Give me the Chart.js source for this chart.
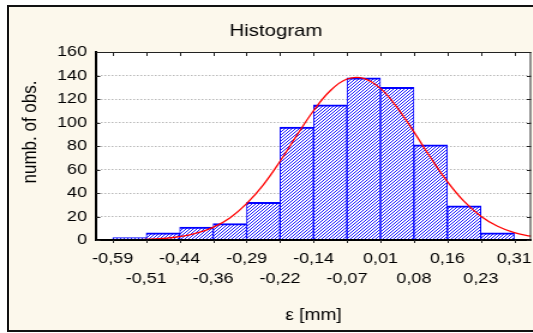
<!DOCTYPE html>
<html>
<head>
<meta charset="utf-8">
<script src="https://cdn.jsdelivr.net/npm/chart.js@4.4.1/dist/chart.umd.min.js"></script>
<style>
  html, body { margin: 0; padding: 0; background: #fff; }
  #wrap { position: relative; width: 533px; height: 333px; overflow: hidden; background: #fff; }
  #frame { position: absolute; left: 7px; top: 5px; width: 600px; height: 323px; border: 2px solid #111; background: #fcf8ec; }
  /* the original picture is stretched sideways, so the chart is drawn narrow and widened */
  #stretch { position: absolute; left: 0; top: 0; width: 460px; height: 333px; transform: scaleX(1.2); transform-origin: 0 0; }
</style>
</head>
<body>
<div id="wrap">
  <div id="frame"></div>
  <div id="stretch"><canvas id="chart" width="460" height="333"></canvas></div>
</div>
<script>
// histogram bins (mm) and the way the axis prints them
var binEdges = [-0.5896, -0.5147, -0.4398, -0.3649, -0.2900, -0.2151, -0.1402, -0.0653, 0.0096, 0.0845, 0.1594, 0.2343, 0.3092];
var tickLabels = ['-0,59', '-0,51', '-0,44', '-0,36', '-0,29', '-0,22', '-0,14', '-0,07', '0,01', '0,08', '0,16', '0,23', '0,31'];
var counts = [2, 6, 11, 14, 32, 96, 115, 138, 130, 81, 29, 6];
var yTicks = [0, 20, 40, 60, 80, 100, 120, 140, 160];

// red normal curve
var curveX = [-0.6271, -0.5896, -0.5522, -0.5147, -0.4773, -0.4398, -0.4024, -0.3649, -0.3275, -0.2900, -0.2526, -0.2151, -0.1777, -0.1402,
              -0.1028, -0.0653, -0.0279, 0.0096, 0.0471, 0.0845, 0.1220, 0.1594, 0.1969, 0.2343, 0.2718, 0.3092, 0.3467];
var curveY = [0, 0.1, 0.3, 0.6, 1.3, 2.8, 5.8, 10.8, 18.8, 31, 47, 67, 89, 110,
              127, 137, 137.6, 129, 112.7, 92, 70, 49.7, 32.8, 20.3, 11.7, 6.3, 3.2];

var FONT = "Arial, 'Liberation Sans', sans-serif";

// hatch fill for the bars
function hatch() {
  var c = document.createElement('canvas');
  c.width = 3; c.height = 3;
  var g = c.getContext('2d');
  g.fillStyle = '#ffffff';
  g.fillRect(0, 0, 3, 3);
  g.fillStyle = '#1a1aff';
  for (var i = 0; i < 3; i++) g.fillRect(i, 2 - i, 1, 1);
  return g.createPattern(c, 'repeat');
}

var binW = binEdges[1] - binEdges[0];
var bars = counts.map(function (c, i) {
  return { x: (binEdges[i] + binEdges[i + 1]) / 2, y: c };
});
var curve = curveX.map(function (x, i) {
  return { x: x, y: curveY[i] };
});

// white plot area, thin top/right frame, inner tick marks, y title
var plotDeco = {
  id: 'plotDeco',
  beforeDraw: function (chart) {
    var a = chart.chartArea, ctx = chart.ctx;
    ctx.save();
    ctx.fillStyle = '#ffffff';
    ctx.fillRect(a.left, a.top, a.right - a.left, a.bottom - a.top);
    ctx.restore();
  },
  afterDraw: function (chart) {
    var a = chart.chartArea, ctx = chart.ctx;
    var xs = chart.scales.x, ys = chart.scales.y;
    ctx.save();
    ctx.strokeStyle = '#222';
    ctx.lineWidth = 1;
    ctx.beginPath();
    ctx.moveTo(a.left, a.top + 0.5); ctx.lineTo(a.right, a.top + 0.5);
    ctx.moveTo(a.right - 0.5, a.top); ctx.lineTo(a.right - 0.5, a.bottom);
    binEdges.forEach(function (v) {
      var px = Math.round(xs.getPixelForValue(v)) + 0.5;
      ctx.moveTo(px, a.top); ctx.lineTo(px, a.top + 4);
      ctx.moveTo(px, a.bottom); ctx.lineTo(px, a.bottom + 3);
    });
    yTicks.forEach(function (v) {
      var py = Math.round(ys.getPixelForValue(v)) + 0.5;
      ctx.moveTo(a.left, py); ctx.lineTo(a.left + 3.5, py);
      ctx.moveTo(a.right, py); ctx.lineTo(a.right - 3.5, py);
    });
    ctx.stroke();

    ctx.translate(25, 132);
    ctx.rotate(-Math.PI / 2);
    ctx.fillStyle = '#000';
    ctx.font = '17px ' + FONT;
    ctx.textAlign = 'center';
    ctx.textBaseline = 'middle';
    ctx.fillText('numb. of obs.', 0, 0);
    ctx.restore();
  }
};

var myChart = new Chart(document.getElementById('chart'), {
  type: 'bar',
  data: {
    datasets: [{
      type: 'line',
      data: curve,
      borderColor: '#ff0000',
      borderWidth: 1.3,
      pointRadius: 0,
      tension: 0.4,
      fill: false,
      order: 0
    }, {
      type: 'bar',
      data: bars,
      backgroundColor: hatch(),
      borderColor: '#0000ff',
      borderWidth: { top: 2, left: 1, right: 1, bottom: 0 },
      borderSkipped: 'start',
      barPercentage: 1,
      categoryPercentage: 1,
      order: 1
    }]
  },
  options: {
    responsive: false,
    devicePixelRatio: 1,
    animation: false,
    events: [],
    layout: { padding: 0 },
    plugins: {
      legend: { display: false },
      tooltip: { enabled: false },
      title: {
        display: true,
        text: 'Histogram',
        color: '#000',
        font: { family: FONT, size: 17, weight: 'normal', lineHeight: 1.2 },
        padding: { top: 20.8, bottom: 10.8 }
      }
    },
    scales: {
      x: {
        type: 'linear',
        offset: false,
        min: binEdges[0] - binW / 2,
        max: binEdges[binEdges.length - 1] + binW / 2,
        grid: { display: false, drawTicks: false, offset: false },
        border: { display: true, color: '#000', width: 2, z: 1 },
        afterBuildTicks: function (s) {
          s.ticks = binEdges.map(function (v) { return { value: v }; });
        },
        afterFit: function (s) {
          s.height = 93;
          s.paddingLeft = 0;
          s.paddingRight = 17.5;
        },
        ticks: {
          autoSkip: false,
          maxRotation: 0,
          minRotation: 0,
          padding: 9,
          color: '#000',
          font: { family: FONT, size: 15, lineHeight: 20 / 15 },
          callback: function (v, i) {
            return i % 2 ? ['', tickLabels[i]] : tickLabels[i];
          }
        },
        title: {
          display: true,
          text: 'ε [mm]',
          color: '#000',
          font: { family: FONT, size: 16, lineHeight: 1.2 },
          padding: { top: 17, bottom: 7.8 }
        }
      },
      y: {
        min: 0,
        max: 160,
        grid: {
          drawTicks: false,
          lineWidth: 1,
          color: function (c) {
            return (c.tick && (c.tick.value === 0 || c.tick.value === 160)) ? 'rgba(0,0,0,0)' : '#b8b8b8';
          }
        },
        border: { display: true, color: '#000', width: 2, dash: [1.5, 1.5], z: 1 },
        afterFit: function (s) {
          s.width = 80;
          s.paddingTop = 0;
          s.paddingBottom = 0;
        },
        ticks: {
          stepSize: 20,
          padding: 7.5,
          color: '#000',
          font: { family: FONT, size: 15 }
        }
      }
    }
  },
  plugins: [plotDeco]
});
</script>
</body>
</html>
